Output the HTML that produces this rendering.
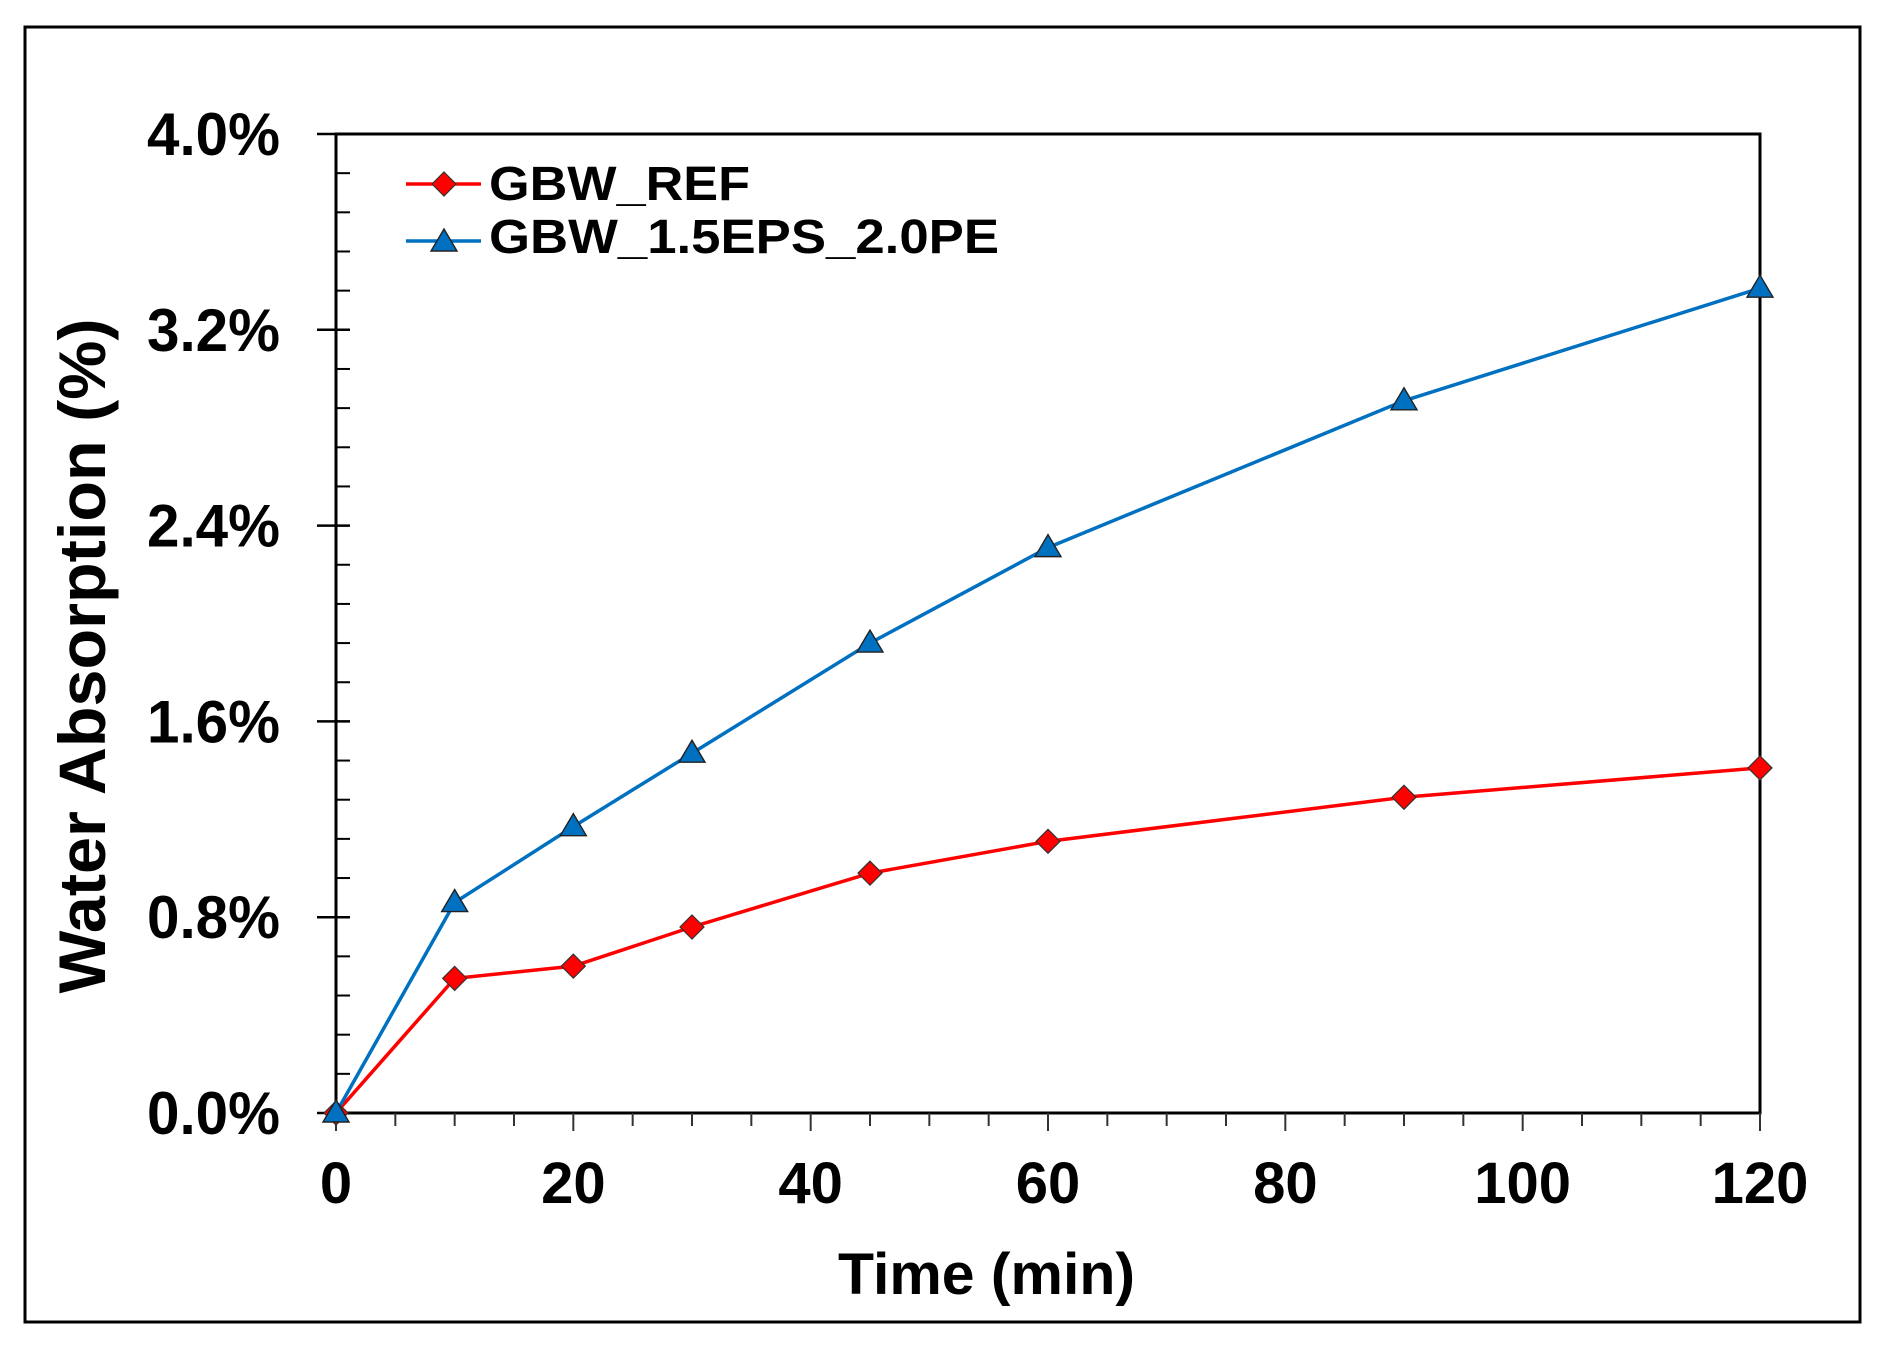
<!DOCTYPE html>
<html><head><meta charset="utf-8"><style>
html,body{margin:0;padding:0;background:#fff;}
svg{display:block;}
text{font-family:"Liberation Sans",Arial,sans-serif;font-weight:bold;fill:#000;}
</style></head><body>
<svg id="chart" width="1888" height="1360" viewBox="0 0 1888 1360" xmlns="http://www.w3.org/2000/svg">
<rect x="25" y="27" width="1835" height="1295" fill="#fff" stroke="#000" stroke-width="3"/>
<g id="axes"></g>
<g id="series"></g>
<text transform="translate(105,656) rotate(-90)" text-anchor="middle" font-size="66" textLength="675" lengthAdjust="spacingAndGlyphs">Water Absorption (%)</text>
<text x="838" y="1294" font-size="58" textLength="297" lengthAdjust="spacingAndGlyphs">Time (min)</text>
<g>
  <g>
    <line x1="406" y1="184" x2="481" y2="184" stroke="#ff0000" stroke-width="3.5"/>
    <polygon points="444,172 456,184 444,196 432,184" fill="#ff0000" stroke="#333" stroke-width="1.2"/>
    <text x="489" y="200" font-size="48" textLength="261" lengthAdjust="spacingAndGlyphs">GBW_REF</text>
  </g>
  <g>
    <line x1="406" y1="241" x2="481" y2="241" stroke="#0070c0" stroke-width="3.5"/>
    <polygon points="444,229 457,251 431,251" fill="#0070c0" stroke="#222" stroke-width="1.4"/>
    <text x="489" y="253" font-size="48" textLength="510" lengthAdjust="spacingAndGlyphs">GBW_1.5EPS_2.0PE</text>
  </g>
</g>
</svg>
<script>
const times = [0, 10, 20, 30, 45, 60, 90, 120];
const refValues = [0, 0.55, 0.60, 0.76, 0.98, 1.11, 1.29, 1.41];
const epsValues = [0, 0.86, 1.17, 1.47, 1.92, 2.31, 2.91, 3.37];
const yTickLabels = ["0.0%", "0.8%", "1.6%", "2.4%", "3.2%", "4.0%"];
const yTickValues = [0, 0.8, 1.6, 2.4, 3.2, 4.0];
const xTickValues = [0, 20, 40, 60, 80, 100, 120];

const NS = "http://www.w3.org/2000/svg";
const L = 336, R = 1760, T = 134, B = 1113;
const xMax = 120, yMax = 4.0;
function xs(v){ return L + (v / xMax) * (R - L); }
function ys(v){ return B - (v / yMax) * (B - T); }
function mk(tag, attrs, parent){
  const e = document.createElementNS(NS, tag);
  for (const k in attrs) e.setAttribute(k, attrs[k]);
  parent.appendChild(e);
  return e;
}
const axes = document.getElementById('axes');
const plot = mk('rect', {x:L, y:T, width:R-L, height:B-T, fill:'none', stroke:'#000', 'stroke-width':3}, axes);



for (let v = 0; v <= yMax + 1e-9; v += 0.16) {
  const y = ys(v);
  const t = mk('line', {x1:L, y1:y, x2:L+14, y2:y, stroke:'#000', 'stroke-width':2}, axes);
  
  
}
yTickValues.forEach((v, i) => {
  const y = ys(v);
  const t = mk('line', {x1:L-19, y1:y, x2:L+14, y2:y, stroke:'#000', 'stroke-width':2.5}, axes);
  
  
  const lb = mk('text', {x:280, y:y+21, 'text-anchor':'end', 'font-size':60, textLength:133, lengthAdjust:'spacingAndGlyphs'}, axes);
  lb.textContent = yTickLabels[i];
  
  
});
for (let v = 0; v <= xMax; v += 5) {
  const x = xs(v);
  const len = (v % 20 === 0) ? 18 : 13;
  const t = mk('line', {x1:x, y1:B, x2:x, y2:B+len, stroke:'#333', 'stroke-width':2}, axes);
  
  
}
xTickValues.forEach(v => {
  const lb = mk('text', {x:xs(v), y:1203, 'text-anchor':'middle', 'font-size':58}, axes);
  lb.textContent = String(v);
  
  
});

const series = document.getElementById('series');
function pts(vals){ return times.map((t, i) => xs(t) + ',' + ys(vals[i])).join(' '); }
const refLine = mk('polyline', {points:pts(refValues), fill:'none', stroke:'#ff0000', 'stroke-width':3.5}, series);


const epsLine = mk('polyline', {points:pts(epsValues), fill:'none', stroke:'#0070c0', 'stroke-width':3.5}, series);


times.forEach((t, i) => {
  const x = xs(t), y = ys(refValues[i]);
  const d = mk('polygon', {points:`${x},${y-12} ${x+12},${y} ${x},${y+12} ${x-12},${y}`, fill:'#ff0000', stroke:'#333', 'stroke-width':1.2}, series);
  
  
});
times.forEach((t, i) => {
  const x = xs(t), y = ys(epsValues[i]);
  const d = mk('polygon', {points:`${x},${y-13} ${x+13},${y+9} ${x-13},${y+9}`, fill:'#0070c0', stroke:'#222', 'stroke-width':1.4}, series);
  
  
});
</script>
</body></html>
